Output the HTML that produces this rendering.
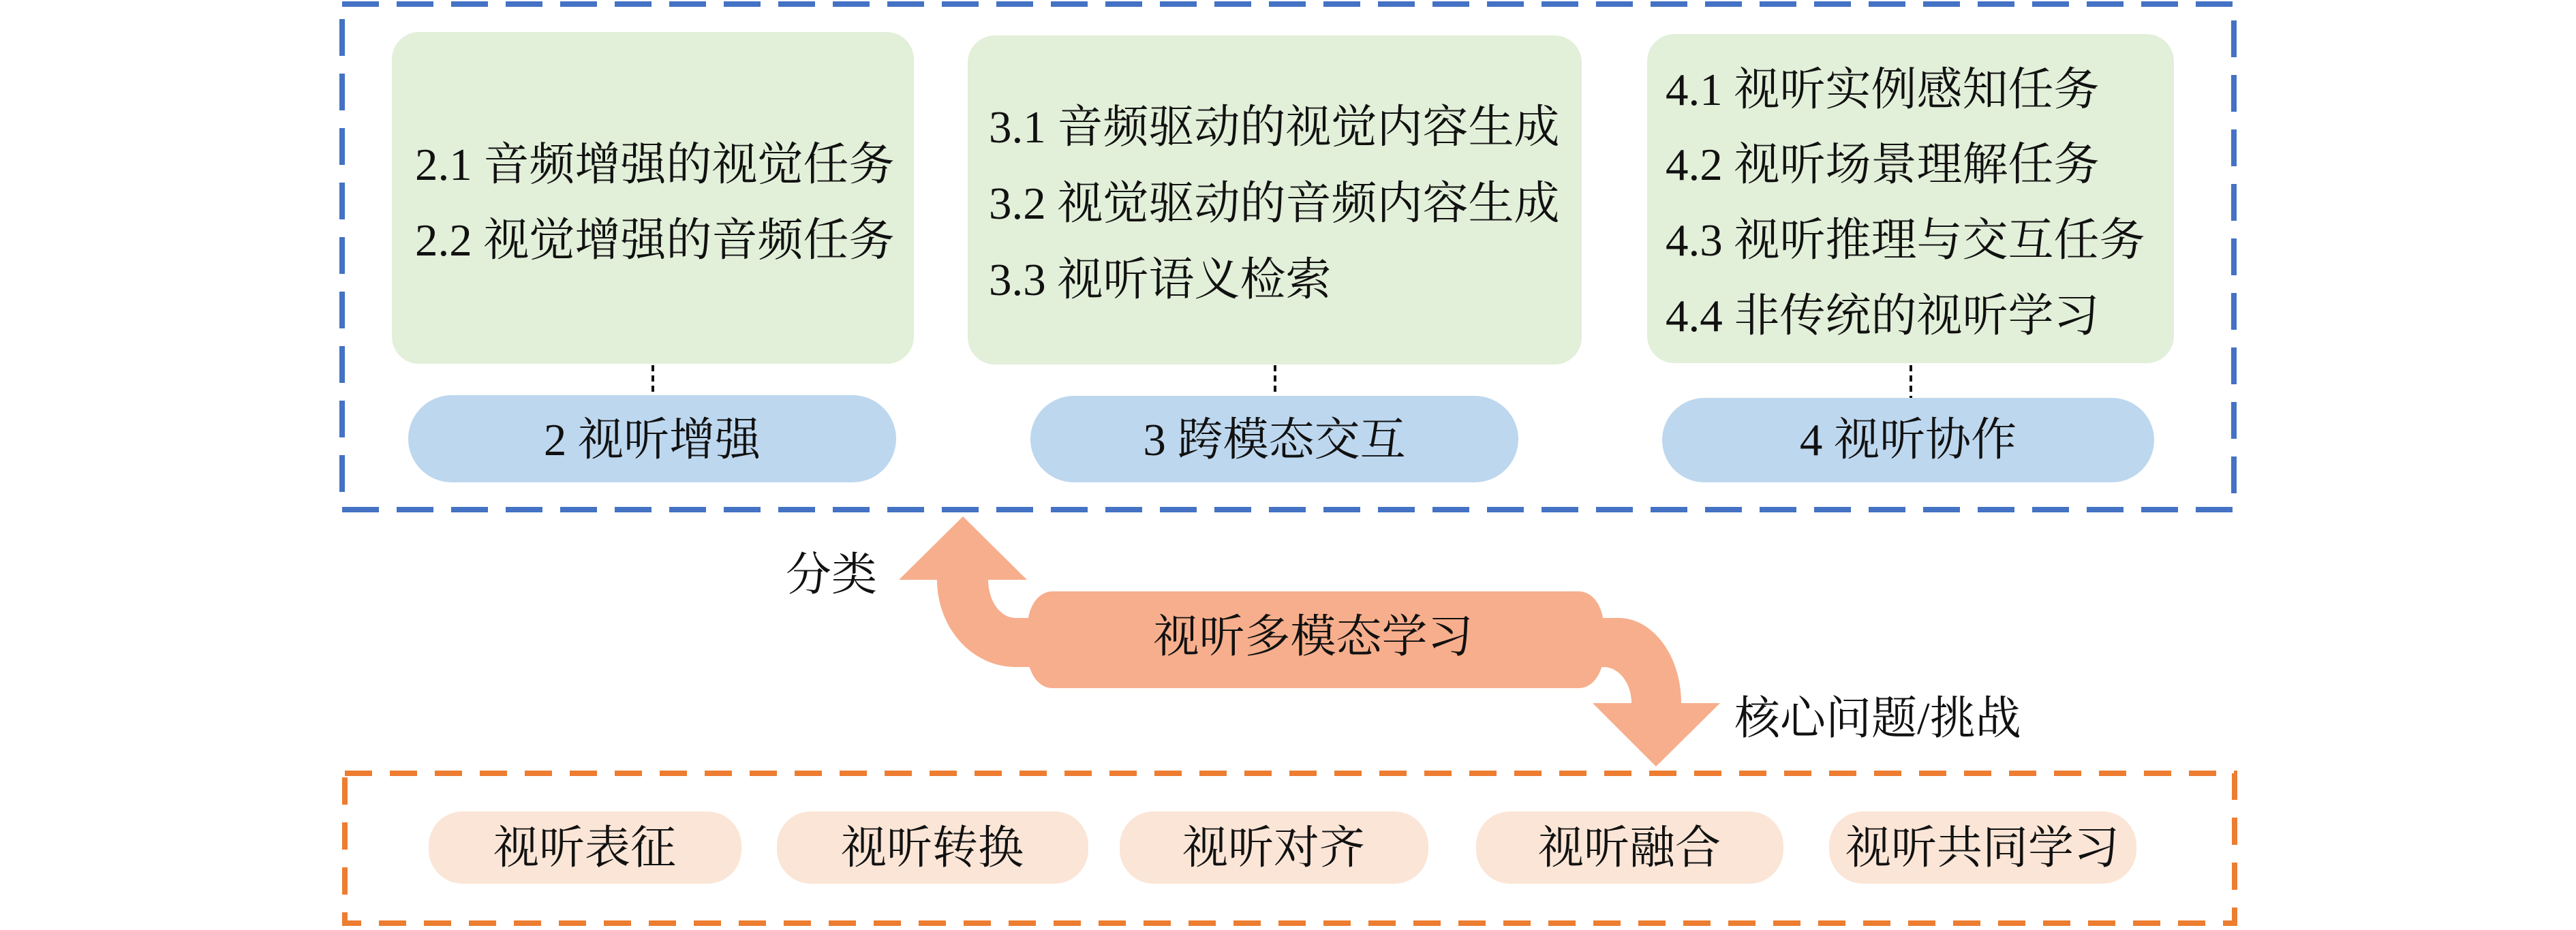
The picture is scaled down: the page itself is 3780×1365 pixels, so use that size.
<!DOCTYPE html>
<html><head><meta charset="utf-8"><style>
html,body{margin:0;padding:0;background:#fff;}
svg{display:block;}
text{font-family:"Liberation Serif","Noto Serif CJK SC",serif;font-size:67px;fill:#111;}
</style></head><body>
<svg width="3780" height="1365" viewBox="0 0 3780 1365" xmlns="http://www.w3.org/2000/svg">
<rect x="502" y="6" width="2776" height="742" fill="none" stroke="#4472c4" stroke-width="8" stroke-dasharray="54 26"/>
<rect x="575" y="47" width="766" height="487" rx="40" ry="40" fill="#e2efd9"/>
<rect x="1420" y="52" width="901" height="483" rx="40" ry="40" fill="#e2efd9"/>
<rect x="2417" y="50" width="773" height="483" rx="40" ry="40" fill="#e2efd9"/>
<line x1="958" y1="536" x2="958" y2="580" stroke="#111" stroke-width="4" stroke-dasharray="9 6"/>
<line x1="1871" y1="536" x2="1871" y2="582" stroke="#111" stroke-width="4" stroke-dasharray="9 6"/>
<line x1="2804" y1="536" x2="2804" y2="584" stroke="#111" stroke-width="4" stroke-dasharray="9 6"/>
<rect x="599" y="580" width="716" height="128" rx="64" ry="64" fill="#bdd7ee"/>
<rect x="1512" y="581" width="716" height="127" rx="64" ry="64" fill="#bdd7ee"/>
<rect x="2439" y="584" width="722" height="124" rx="62" ry="62" fill="#bdd7ee"/>
<g dominant-baseline="central">
<text x="609" y="242">2.1 音频增强的视觉任务</text>
<text x="609" y="353">2.2 视觉增强的音频任务</text>
<text x="1451" y="187">3.1 音频驱动的视觉内容生成</text>
<text x="1451" y="299">3.2 视觉驱动的音频内容生成</text>
<text x="1451" y="411">3.3 视听语义检索</text>
<text x="2444" y="132">4.1 视听实例感知任务</text>
<text x="2444" y="242">4.2 视听场景理解任务</text>
<text x="2444" y="353">4.3 视听推理与交互任务</text>
<text x="2444" y="464">4.4 非传统的视听学习</text>
<text x="957" y="646" text-anchor="middle">2 视听增强</text>
<text x="1870" y="646" text-anchor="middle">3 跨模态交互</text>
<text x="2800" y="646" text-anchor="middle">4 视听协作</text>
</g>
<g fill="#f7ae8c">
<rect x="1508" y="868" width="845" height="142" rx="36" ry="50"/>
<path d="M1520,979 L1490,979 A115,128 0 0 1 1375,851 L1319,851 L1413,758 L1507,851 L1450,851 A40,56 0 0 0 1490,907 L1520,907 Z"/>
<path d="M2340,907 L2375,907 A92,125 0 0 1 2467,1032 L2524,1032 L2430,1125 L2337,1032 L2394,1032 A41,53 0 0 0 2353,979 L2340,979 Z"/>
</g>
<g dominant-baseline="central">
<text x="1927" y="935" text-anchor="middle">视听多模态学习</text>
<text x="1153" y="844">分类</text>
<text x="2545" y="1055">核心问题/挑战</text>
</g>
<rect x="506" y="1135" width="2773" height="220" fill="none" stroke="#ed7d31" stroke-width="8" stroke-dasharray="40 26"/>
<g fill="#fbe5d6">
<rect x="629" y="1191" width="459" height="106" rx="50" ry="50"/>
<rect x="1140" y="1191" width="457" height="106" rx="50" ry="50"/>
<rect x="1643" y="1191" width="453" height="106" rx="50" ry="50"/>
<rect x="2166" y="1191" width="451" height="106" rx="50" ry="50"/>
<rect x="2684" y="1191" width="451" height="106" rx="50" ry="50"/>
</g>
<g dominant-baseline="central" text-anchor="middle">
<text x="858" y="1245">视听表征</text>
<text x="1368" y="1245">视听转换</text>
<text x="1869" y="1245">视听对齐</text>
<text x="2391" y="1245">视听融合</text>
<text x="2909" y="1245">视听共同学习</text>
</g>
</svg>
</body></html>
